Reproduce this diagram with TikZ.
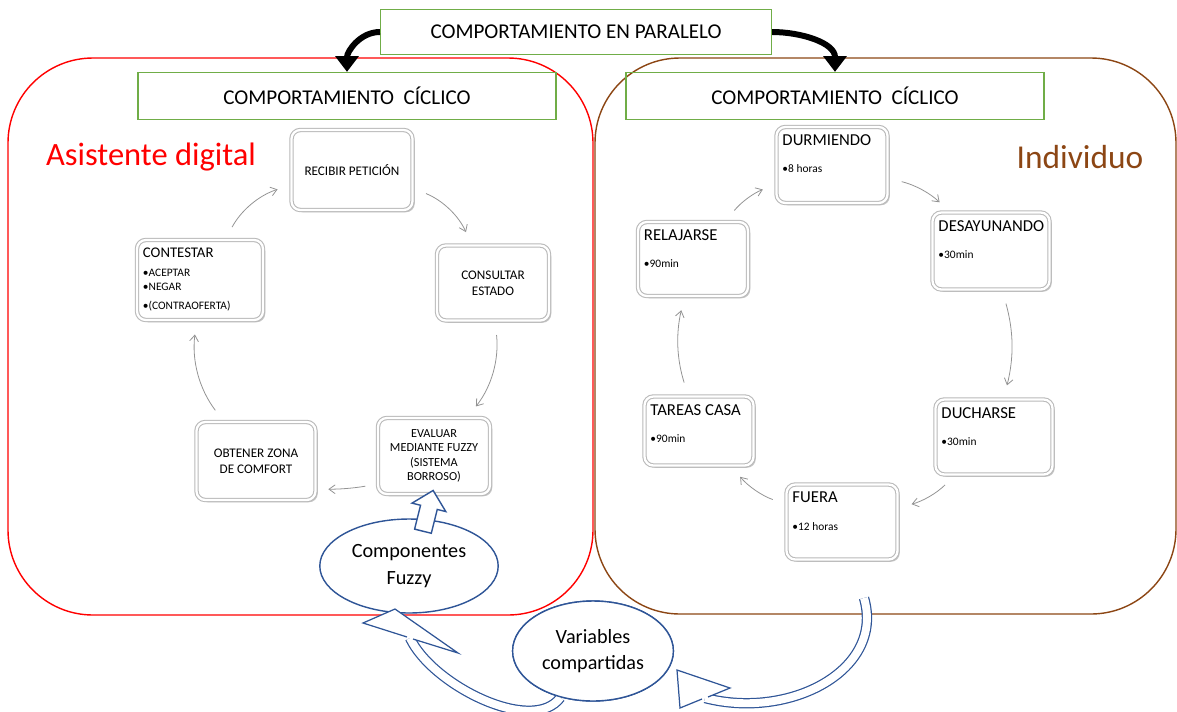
\documentclass[tikz,border=0pt]{standalone}
\usepackage{fontspec}
\setmainfont{Carlito}
\usetikzlibrary{arrows.meta,shadows,shapes.geometric,shapes.arrows}

\definecolor{rojo}{RGB}{255,0,0}
\definecolor{marron}{RGB}{140,70,20}
\definecolor{verde}{RGB}{112,173,71}
\definecolor{azul}{RGB}{47,85,151}

\newcommand{\paso}[2]{#1\\[5pt]\fontsize{6.5}{7.5}\selectfont\textbullet#2}

\tikzset{
  marco/.style={draw=verde, line width=0.7pt, minimum width=8.36cm, minimum height=0.94cm, font=\fontsize{12}{14}\selectfont},
  caja/.style={draw=gray!55, double=white, double distance=1.3pt, line width=0.6pt, fill=white,
    rounded corners=5pt, drop shadow={shadow xshift=1.3pt, shadow yshift=-1.3pt, opacity=0.45},
    align=center, font=\fontsize{7.5}{9}\selectfont},
  tit/.style={anchor=north west, align=flush left, text width=2.1cm, inner sep=0pt, xshift=3.5pt, yshift=-4.5pt,
    font=\fontsize{9.5}{10.5}\selectfont},
  tarea/.style={label={[tit]north west:{#1}}},
  ciclo/.style={-{Straight Barb[length=3.5pt,width=5pt]}, gray!85, line width=0.45pt, shorten <=8pt, shorten >=8pt},
  paralela/.style={-{Triangle[length=9pt,width=13pt]}, line width=3.4pt},
  burbuja/.style={ellipse, draw=azul, line width=0.8pt, fill=white, align=center, font=\fontsize{11.5}{15}\selectfont},
  tubo/.style={draw=azul, line width=0.7pt, double=white, double distance=4.5pt},
  punta/.style={draw=azul, line width=0.7pt, line join=miter},
  bloque/.style={single arrow, draw=azul, fill=white, line width=0.8pt, minimum height=0.84cm,
    inner sep=4.5pt, single arrow head extend=5pt}
}

\begin{document}
\begin{tikzpicture}[x=0.02cm, y=-0.02cm]
  \useasboundingbox (0,0) rectangle (1177,711);

  % los dos bloques
  \draw[rojo, line width=0.8pt, rounded corners=1.7cm] (8,58) rectangle (593,615);
  \draw[marron, line width=0.8pt, rounded corners=1.7cm] (595,58) rectangle (1176,614);

  \node[marco, minimum width=7.82cm, minimum height=0.9cm] (par) at (576,32) {COMPORTAMIENTO EN PARALELO};
  \node[marco] (cicA) at (347,96) {COMPORTAMIENTO\ \ CÍCLICO};
  \node[marco] (cicB) at (835,96) {COMPORTAMIENTO\ \ CÍCLICO};
  \draw[paralela] (par.west) to[out=180,in=90] (cicA.north);
  \draw[paralela] (par.east) to[out=0,in=90] (cicB.north);

  \node[rojo, font=\fontsize{18.5}{21}\selectfont] (asis) at (151,157) {Asistente digital};
  \node[marron, font=\fontsize{19}{22}\selectfont] (indiv) at (1080,157) {Individuo};

  % ciclo del asistente
  \node[caja, minimum width=2.42cm, minimum height=1.6cm] (recibir) at (352,170) {RECIBIR PETICIÓN};
  \node[caja, minimum width=2.24cm, minimum height=1.5cm] (consultar) at (493,283) {CONSULTAR\\ESTADO};
  \node[caja, minimum width=2.24cm, minimum height=1.52cm, font=\fontsize{7}{8.3}\selectfont] (evaluar) at (434,456) {EVALUAR\\MEDIANTE FUZZY\\(SISTEMA\\BORROSO)};
  \node[caja, minimum width=2.38cm, minimum height=1.56cm] (obtener) at (256,461) {OBTENER ZONA\\DE COMFORT};
  \node[caja, minimum width=2.52cm, minimum height=1.6cm,
    tarea={\fontsize{8.4}{9}\selectfont CONTESTAR\\[3pt]\fontsize{6.5}{8}\selectfont\textbullet ACEPTAR\\\textbullet NEGAR\\\textbullet(CONTRAOFERTA)}] (contestar) at (200,280) {};

  \draw[ciclo] (contestar) to[bend left=22] (recibir);
  \draw[ciclo] (recibir) to[bend left=22] (consultar);
  \draw[ciclo] (consultar) to[bend left=22] (evaluar);
  \draw[ciclo, shorten <=7pt, shorten >=7pt] ([yshift=-16pt]evaluar.west) to[bend left=5] ([yshift=-16pt]obtener.east);
  \draw[ciclo] (obtener) to[bend left=22] (contestar);

  % ciclo del individuo
  \node[caja, minimum width=2.22cm, minimum height=1.52cm, tarea={\paso{DURMIENDO}{8 horas}}] (durm) at (832,165) {};
  \node[caja, minimum width=2.34cm, minimum height=1.54cm, tarea={\paso{DESAYUNANDO}{30min}}] (desay) at (991,251) {};
  \node[caja, minimum width=2.34cm, minimum height=1.5cm, tarea={\paso{DUCHARSE}{30min}}] (duch) at (994,437) {};
  \node[caja, minimum width=2.22cm, minimum height=1.5cm, tarea={\paso{FUERA}{12 horas}}] (fuera) at (842,522) {};
  \node[caja, minimum width=2.18cm, minimum height=1.38cm, tarea={\paso{TAREAS CASA}{90min}}] (tareas) at (699,431) {};
  \node[caja, minimum width=2.2cm, minimum height=1.48cm, tarea={\paso{RELAJARSE}{90min}}] (relaj) at (693,259) {};

  \draw[ciclo] (relaj) to[bend left=15] (durm);
  \draw[ciclo] (durm) to[bend left=15] (desay);
  \draw[ciclo] (desay) to[bend left=15] (duch);
  \draw[ciclo] (duch) to[bend left=15] (fuera);
  \draw[ciclo] (fuera) to[bend left=15] (tareas);
  \draw[ciclo] (tareas) to[bend left=15] (relaj);

  % variables compartidas
  \coordinate (pL) at (395,609);
  \coordinate (pR) at (677,670);
  \coordinate (colaR) at (864,598);
  \node[burbuja, minimum width=3.04cm, minimum height=2cm] (vars) at (593,651) {Variables\\compartidas};
  \draw[tubo] ([shift={(15,29)}]pL) .. controls +(22,47) and +(-28,38) .. (vars.235);
  \draw[tubo] (colaR) .. controls +(21,72) and +(85,22) .. ([shift={(28,28)}]pR);
  \node[burbuja, minimum width=2.72cm, minimum height=1.88cm] (comp) at (409,566) {Componentes\\Fuzzy};
  \node[burbuja, minimum width=3.04cm, minimum height=2cm] (vars) at (593,651) {Variables\\compartidas};

  \fill[white] (pL) -- ([shift={(-32,14)}]pL) -- ([shift={(63,44)}]pL) -- cycle;
  \draw[punta] ([shift={(12,28)}]pL) -- ([shift={(-32,14)}]pL) -- (pL) -- ([shift={(63,44)}]pL) -- ([shift={(18,30)}]pL);
  \fill[white] (pR) -- ([shift={(53,18)}]pR) -- ([shift={(3,38)}]pR) -- cycle;
  \draw[punta] ([shift={(31,27)}]pR) -- ([shift={(53,18)}]pR) -- (pR) -- ([shift={(3,38)}]pR) -- ([shift={(25,29)}]pR);

  \node[bloque, rotate=76] (subir) at (427,515) {};
\end{tikzpicture}
\end{document}
